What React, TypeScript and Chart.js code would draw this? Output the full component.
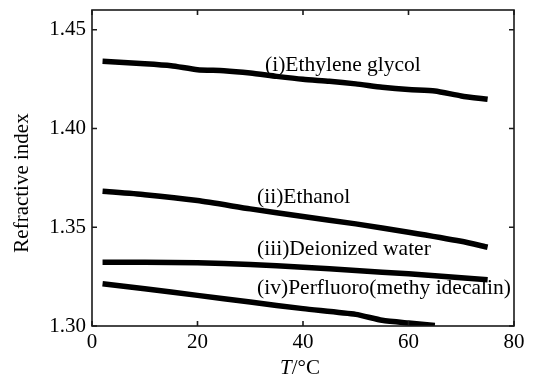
import React, { useEffect, useRef } from "react";
import { Chart, registerables } from "chart.js";

Chart.register(...registerables);

// ---- Data ----
const ethyleneTemps = [2, 10, 15, 20, 25, 30, 35, 40, 45, 50, 55, 60, 65, 70, 75];
const ethyleneGlycol = [1.434, 1.4328, 1.4318, 1.4298, 1.4293, 1.4281, 1.4264, 1.4249, 1.4239, 1.4226, 1.4209, 1.4197, 1.419, 1.4165, 1.4148];

const ethanolTemps = [2, 10, 20, 30, 40, 50, 60, 70, 75];
const ethanol = [1.3682, 1.3665, 1.3635, 1.3593, 1.3554, 1.3517, 1.3475, 1.3429, 1.3399];

const waterTemps = [2, 10, 20, 30, 40, 50, 60, 70, 75];
const deionizedWater = [1.3323, 1.3323, 1.332, 1.3311, 1.3298, 1.3281, 1.3264, 1.3244, 1.3234];

const perfluoroTemps = [2, 10, 20, 30, 40, 50, 55, 60, 65];
const perfluoro = [1.3214, 1.3189, 1.3155, 1.3121, 1.3088, 1.3059, 1.3029, 1.3015, 1.3003];

const xTickValues = [0, 20, 40, 60, 80];
const yTickValues = [1.3, 1.35, 1.4, 1.45];

const seriesLabels = [
  "(i)Ethylene glycol",
  "(ii)Ethanol",
  "(iii)Deionized water",
  "(iv)Perfluoro(methy idecalin)",
];
// label anchor (left edge, vertical middle) in data units
const labelT = [32.8, 31.3, 31.3, 31.3];
const labelN = [1.4322, 1.3651, 1.3386, 1.319];

const yTitle = "Refractive index";

const FONT = "'Liberation Serif', 'Times New Roman', serif";

function pts(xs: number[], ys: number[]) {
  return xs.map((x, i) => ({ x, y: ys[i] }));
}

const decorPlugin = {
  id: "decor",
  afterDraw(chart: any) {
    const { ctx, chartArea: a, scales } = chart;
    const xs = scales.x;
    const ys = scales.y;
    ctx.save();
    // frame
    ctx.strokeStyle = "#1a1a1a";
    ctx.lineWidth = 1.6;
    ctx.strokeRect(a.left, a.top, a.right - a.left, a.bottom - a.top);
    // inward ticks
    const L = 5;
    ctx.beginPath();
    for (const v of xTickValues) {
      const px = xs.getPixelForValue(v);
      ctx.moveTo(px, a.bottom);
      ctx.lineTo(px, a.bottom - L);
      ctx.moveTo(px, a.top);
      ctx.lineTo(px, a.top + L);
    }
    for (const v of yTickValues) {
      const py = ys.getPixelForValue(v);
      ctx.moveTo(a.left, py);
      ctx.lineTo(a.left + L, py);
      ctx.moveTo(a.right, py);
      ctx.lineTo(a.right - L, py);
    }
    ctx.stroke();

    // series annotations
    ctx.fillStyle = "#000";
    ctx.font = `21.5px ${FONT}`;
    ctx.textAlign = "left";
    ctx.textBaseline = "middle";
    seriesLabels.forEach((t, i) => {
      ctx.fillText(t, xs.getPixelForValue(labelT[i]), ys.getPixelForValue(labelN[i]));
    });

    // y title
    ctx.save();
    ctx.translate(22, a.bottom - 143);
    ctx.rotate(-Math.PI / 2);
    ctx.textAlign = "center";
    ctx.textBaseline = "middle";
    ctx.font = `21px ${FONT}`;
    ctx.fillText(yTitle, 0, 0);
    ctx.restore();

    // x title: italic T + "/°C"
    const cx = (a.left + a.right) / 2 - 3;
    const cy = 368;
    ctx.textBaseline = "middle";
    ctx.font = `italic 21px ${FONT}`;
    const wT = ctx.measureText("T").width;
    ctx.font = `21px ${FONT}`;
    const wR = ctx.measureText("/°C").width;
    const x0 = cx - (wT + wR) / 2;
    ctx.textAlign = "left";
    ctx.font = `italic 21px ${FONT}`;
    ctx.fillText("T", x0, cy);
    ctx.font = `21px ${FONT}`;
    ctx.fillText("/°C", x0 + wT, cy);
    ctx.restore();
  },
};

export default function App() {
  const ref = useRef<HTMLCanvasElement | null>(null);
  useEffect(() => {
    if (!ref.current) return;
    const line = (label: string, data: any[]) => ({
      label,
      data,
      borderColor: "#000",
      backgroundColor: "#000",
      borderWidth: 5.5,
      pointRadius: 0,
      tension: 0.2,
      fill: false,
    });
    const chart = new Chart(ref.current, {
      type: "line",
      data: {
        datasets: [
          line(seriesLabels[0], pts(ethyleneTemps, ethyleneGlycol)),
          line(seriesLabels[1], pts(ethanolTemps, ethanol)),
          line(seriesLabels[2], pts(waterTemps, deionizedWater)),
          line(seriesLabels[3], pts(perfluoroTemps, perfluoro)),
        ],
      },
      options: {
        animation: false,
        responsive: false,
        devicePixelRatio: 1,
        layout: { padding: { top: 10, right: 19, left: 0, bottom: 0 } },
        plugins: {
          legend: { display: false },
          tooltip: { enabled: false },
          title: { display: false },
        },
        scales: {
          x: {
            type: "linear",
            min: 0,
            max: 80,
            grid: { display: false, drawTicks: false },
            border: { display: false },
            afterBuildTicks: (s: any) => {
              s.ticks = xTickValues.map((v) => ({ value: v }));
            },
            afterFit: (s: any) => {
              s.height = 54;
              s.paddingLeft = 0;
              s.paddingRight = 0;
            },
            ticks: {
              color: "#000",
              padding: 4,
              maxRotation: 0,
              font: { family: FONT, size: 21 },
              callback: (v: any) => String(v),
            },
          },
          y: {
            type: "linear",
            min: 1.3,
            max: 1.46,
            grid: { display: false, drawTicks: false },
            border: { display: false },
            afterBuildTicks: (s: any) => {
              s.ticks = yTickValues.map((v) => ({ value: v }));
            },
            afterFit: (s: any) => {
              s.width = 92;
              s.paddingTop = 0;
              s.paddingBottom = 0;
            },
            ticks: {
              color: "#000",
              padding: 6,
              font: { family: FONT, size: 21 },
              callback: (v: any) => Number(v).toFixed(2),
            },
          },
        },
      },
      plugins: [decorPlugin],
    });
    return () => chart.destroy();
  }, []);
  return (
    <div style={{ position: "fixed", left: 0, top: 0, width: 533, height: 380, background: "#fff" }}>
      <canvas ref={ref} width={533} height={380} style={{ display: "block" }} />
    </div>
  );
}
